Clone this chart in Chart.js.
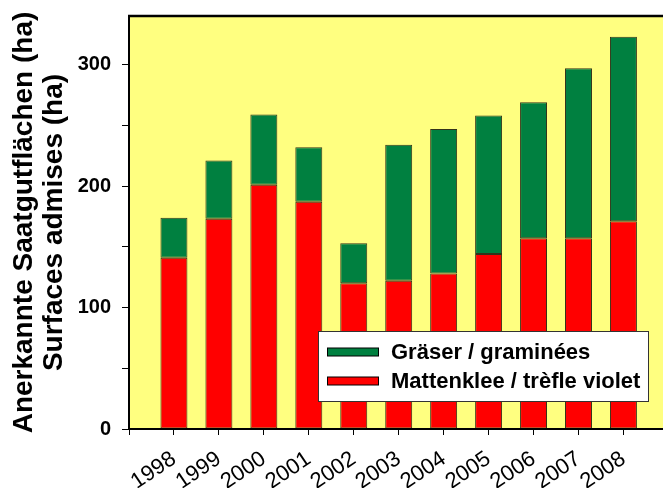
<!DOCTYPE html>
<html><head><meta charset="utf-8">
<script src="https://cdn.jsdelivr.net/npm/chart.js@4.4.1/dist/chart.umd.min.js"></script>
<style>html,body{margin:0;padding:0;background:#fff;overflow:hidden}</style>
</head><body>
<canvas id="c" width="663" height="488"></canvas>
<script>
const years = [1998, 1999, 2000, 2001, 2002, 2003, 2004, 2005, 2006, 2007, 2008];
const mattenklee = [141, 173, 201, 187, 120, 122, 128, 144, 157, 157, 171];
const graeser = [33, 48, 58, 45, 33, 112, 119, 114, 112, 140, 152];
const yTickValues = [0, 100, 200, 300];
const seriesLabels = ['Mattenklee / trèfle violet', 'Gräser / graminées'];
const yTitle = ['Anerkannte Saatgutflächen (ha)', 'Surfaces admises (ha)'];

const FONT = '"Liberation Sans", Arial, Helvetica, sans-serif';
const YELLOW = '#FFFF80';
const GREEN = '#008040';
const RED = '#FF0000';

const bgPlugin = {
  id: 'bg',
  beforeDraw(chart) {
    const {ctx, chartArea: a} = chart;
    ctx.save();
    ctx.fillStyle = '#fff';
    ctx.fillRect(0, 0, chart.width, chart.height);
    ctx.fillStyle = YELLOW;
    ctx.fillRect(a.left, a.top, chart.width - a.left, a.bottom - a.top);
    ctx.restore();
  },
  afterDraw(chart) {
    const {ctx, chartArea: a} = chart;
    ctx.save();
    ctx.strokeStyle = '#000';
    ctx.lineWidth = 2.5;
    ctx.beginPath();
    ctx.moveTo(a.left - 1, a.top);
    ctx.lineTo(chart.width, a.top);
    ctx.stroke();
    ctx.restore();
  }
};

const legendPlugin = {
  id: 'boxLegend',
  afterDraw(chart) {
    const {ctx} = chart;
    const box = {x: 318.5, y: 331.5, w: 330, h: 70};
    ctx.save();
    ctx.fillStyle = '#fff';
    ctx.fillRect(box.x, box.y, box.w, box.h);
    ctx.strokeStyle = '#333';
    ctx.lineWidth = 1;
    ctx.strokeRect(box.x, box.y, box.w, box.h);
    const items = chart.data.datasets.slice().reverse();
    ctx.font = 'bold 22px ' + FONT;
    ctx.textBaseline = 'middle';
    ctx.textAlign = 'left';
    items.forEach((ds, i) => {
      const cy = 352 + i * 29;
      ctx.fillStyle = ds.backgroundColor;
      ctx.fillRect(327.5, cy - 4, 51, 8);
      ctx.strokeStyle = '#000';
      ctx.strokeRect(327.5, cy - 4, 51, 8);
      ctx.fillStyle = '#000';
      ctx.fillText(ds.label, 391, cy + 1);
    });
    ctx.restore();
  }
};

new Chart(document.getElementById('c'), {
  type: 'bar',
  data: {
    datasets: [
      {
        label: seriesLabels[0],
        data: years.map((y, i) => ({x: y, y: mattenklee[i]})),
        backgroundColor: RED,
        borderColor: 'rgba(0,0,0,0.8)',
        borderWidth: 1,
        borderSkipped: false,
        barPercentage: 0.6,
        categoryPercentage: 1
      },
      {
        label: seriesLabels[1],
        data: years.map((y, i) => ({x: y, y: graeser[i]})),
        backgroundColor: GREEN,
        borderColor: 'rgba(0,0,0,0.8)',
        borderWidth: 1,
        borderSkipped: false,
        barPercentage: 0.6,
        categoryPercentage: 1
      }
    ]
  },
  options: {
    responsive: false,
    animation: false,
    devicePixelRatio: 1,
    layout: {padding: {top: 16, right: 0, bottom: 0, left: 0}},
    plugins: {legend: {display: false}, tooltip: {enabled: false}, title: {display: false}},
    scales: {
      x: {
        type: 'linear',
        stacked: true,
        offset: false,
        min: years[0] - 1,
        max: years[years.length - 1] + 0.88,
        afterBuildTicks(scale) {
          scale.ticks = [years[0] - 1].concat(years).map(v => ({value: v}));
        },
        afterFit(scale) {
          scale.height = 59;
          scale.paddingLeft = 0; scale.paddingRight = 0;
          scale.paddingTop = 0; scale.paddingBottom = 0;
        },
        grid: {display: true, offset: false, drawOnChartArea: false, drawTicks: true, tickLength: 6, color: '#000', lineWidth: 1},
        border: {display: true, color: '#000', width: 2},
        ticks: {
          autoSkip: false,
          minRotation: 34,
          maxRotation: 34,
          padding: 11,
          color: '#000',
          font: {family: FONT, size: 22},
          callback: v => years.includes(v) ? String(v) : ''
        }
      },
      y: {
        stacked: true,
        min: 0,
        max: 340,
        afterFit(scale) {
          scale.width = 129;
          scale.paddingTop = 0; scale.paddingBottom = 0;
          scale.paddingLeft = 0; scale.paddingRight = 0;
        },
        grid: {display: true, drawOnChartArea: false, drawTicks: true, tickLength: 7, color: '#000', lineWidth: 1},
        border: {display: true, color: '#000', width: 2},
        ticks: {
          stepSize: 50,
          includeBounds: false,
          padding: 11,
          color: '#000',
          font: {family: FONT, size: 20, weight: 'bold'},
          callback: v => yTickValues.includes(v) ? String(v) : ''
        },
        title: {
          display: true,
          text: yTitle,
          color: '#000',
          font: {family: FONT, size: 28, weight: 'bold', lineHeight: 1.05},
          padding: {top: 10, bottom: 0}
        }
      }
    }
  },
  plugins: [bgPlugin, legendPlugin]
});
</script>
</body></html>
